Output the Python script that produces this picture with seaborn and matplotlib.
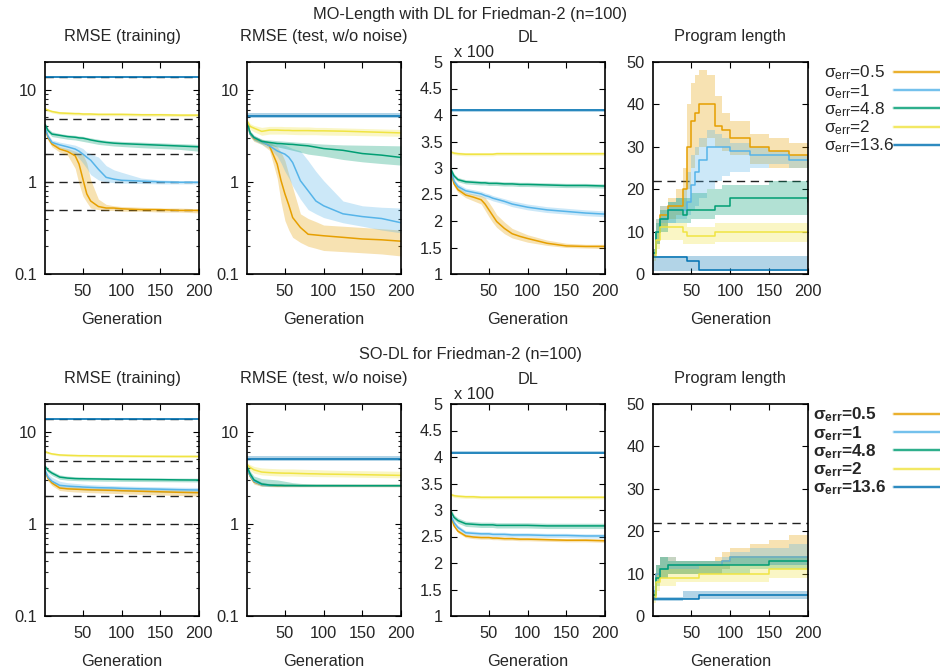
import numpy as np
import matplotlib
matplotlib.use("Agg")
import matplotlib.pyplot as plt
import seaborn as sns
from matplotlib.lines import Line2D
from matplotlib.ticker import LogLocator, NullFormatter, FixedLocator, FormatStrFormatter

# data: median + band (lo/hi) per noise level
gens = [1, 5, 10, 20, 30, 40, 45, 50, 55, 60, 70, 80, 90, 100, 125, 150, 175, 200]
labels = ["0.5", "1", "4.8", "2", "13.6"]
colors = ["#E69F00", "#56B4E9", "#009E73", "#F0E442", "#0072B2"]
noise_levels = [13.6, 4.8, 2, 1, 0.5]
true_length = 22

# ---- MO-Length with DL ----
mo_train_mid = [
    [3.8, 3.0, 2.57, 2.27, 2.14, 1.92, 1.56, 1.07, 0.74, 0.62, 0.54, 0.52, 0.52, 0.51, 0.5, 0.5, 0.49, 0.49],
    [3.9, 3.1, 2.68, 2.52, 2.4, 2.27, 2.15, 2.0, 1.85, 1.72, 1.37, 1.12, 1.07, 1.04, 1.02, 1.0, 0.99, 0.99],
    [4.2, 3.6, 3.3, 3.2, 3.1, 3.05, 3.0, 2.98, 2.92, 2.85, 2.75, 2.68, 2.63, 2.6, 2.55, 2.5, 2.45, 2.4],
    [6.2, 6.0, 5.8, 5.6, 5.55, 5.5, 5.5, 5.45, 5.45, 5.45, 5.4, 5.4, 5.4, 5.4, 5.35, 5.35, 5.3, 5.3],
    [13.7, 13.7, 13.7, 13.7, 13.7, 13.7, 13.7, 13.7, 13.7, 13.7, 13.7, 13.7, 13.7, 13.7, 13.7, 13.7, 13.7, 13.7],
]
mo_train_lo = [
    [3.6, 2.8, 2.4, 2.1, 1.95, 1.4, 0.95, 0.7, 0.6, 0.52, 0.5, 0.49, 0.49, 0.48, 0.48, 0.47, 0.47, 0.46],
    [3.7, 2.9, 2.5, 2.35, 2.2, 2.0, 1.8, 1.6, 1.4, 1.2, 1.05, 1.0, 0.98, 0.97, 0.96, 0.95, 0.95, 0.95],
    [4.0, 3.4, 3.1, 3.0, 2.9, 2.85, 2.8, 2.75, 2.7, 2.65, 2.55, 2.5, 2.45, 2.42, 2.35, 2.3, 2.25, 2.15],
    [6.0, 5.8, 5.6, 5.4, 5.35, 5.3, 5.3, 5.25, 5.25, 5.25, 5.2, 5.2, 5.2, 5.2, 5.15, 5.15, 5.1, 5.1],
    [13.3, 13.3, 13.3, 13.3, 13.3, 13.3, 13.3, 13.3, 13.3, 13.3, 13.3, 13.3, 13.3, 13.3, 13.3, 13.3, 13.3, 13.3],
]
mo_train_hi = [
    [4.0, 3.2, 2.75, 2.4, 2.3, 2.15, 2.05, 2.0, 1.6, 1.05, 0.65, 0.57, 0.55, 0.54, 0.53, 0.52, 0.52, 0.51],
    [4.1, 3.3, 2.85, 2.7, 2.6, 2.5, 2.4, 2.3, 2.1, 2.0, 1.86, 1.5, 1.35, 1.27, 1.1, 1.05, 1.03, 1.03],
    [4.4, 3.8, 3.5, 3.35, 3.25, 3.2, 3.15, 3.12, 3.05, 3.0, 2.9, 2.82, 2.78, 2.75, 2.7, 2.65, 2.6, 2.55],
    [6.4, 6.2, 6.0, 5.8, 5.75, 5.7, 5.7, 5.65, 5.65, 5.65, 5.6, 5.6, 5.6, 5.6, 5.55, 5.55, 5.5, 5.5],
    [14.1, 14.1, 14.1, 14.1, 14.1, 14.1, 14.1, 14.1, 14.1, 14.1, 14.1, 14.1, 14.1, 14.1, 14.1, 14.1, 14.1, 14.1],
]

mo_test_mid = [
    [4.5, 3.3, 2.95, 2.75, 2.46, 1.56, 1.03, 0.74, 0.56, 0.41, 0.32, 0.27, 0.265, 0.26, 0.25, 0.24, 0.235, 0.227],
    [4.5, 3.3, 3.0, 2.75, 2.46, 2.17, 2.08, 2.0, 1.85, 1.62, 1.03, 0.8, 0.62, 0.55, 0.45, 0.42, 0.4, 0.36],
    [4.5, 3.4, 3.03, 2.75, 2.68, 2.61, 2.6, 2.58, 2.56, 2.55, 2.5, 2.46, 2.38, 2.3, 2.2, 2.03, 1.95, 1.84],
    [4.6, 4.0, 3.83, 3.53, 3.65, 3.65, 3.63, 3.62, 3.62, 3.6, 3.6, 3.6, 3.58, 3.58, 3.55, 3.5, 3.45, 3.4],
    [5.2, 5.2, 5.2, 5.2, 5.2, 5.2, 5.2, 5.2, 5.2, 5.2, 5.2, 5.2, 5.2, 5.2, 5.2, 5.2, 5.2, 5.2],
]
mo_test_lo = [
    [4.3, 3.1, 2.75, 2.55, 2.2, 1.1, 0.6, 0.38, 0.3, 0.25, 0.22, 0.2, 0.19, 0.18, 0.175, 0.17, 0.165, 0.157],
    [4.3, 3.1, 2.8, 2.55, 2.3, 1.9, 1.6, 1.3, 1.1, 0.9, 0.65, 0.5, 0.45, 0.41, 0.36, 0.33, 0.3, 0.28],
    [4.3, 3.2, 2.85, 2.6, 2.5, 2.4, 2.35, 2.3, 2.25, 2.2, 2.1, 2.0, 1.95, 1.9, 1.75, 1.65, 1.58, 1.52],
    [4.4, 3.7, 3.5, 3.2, 3.3, 3.3, 3.3, 3.3, 3.28, 3.27, 3.25, 3.25, 3.25, 3.22, 3.2, 3.18, 3.15, 3.12],
    [4.9, 4.9, 4.9, 4.9, 4.9, 4.9, 4.9, 4.9, 4.9, 4.9, 4.9, 4.9, 4.9, 4.9, 4.9, 4.9, 4.9, 4.9],
]
mo_test_hi = [
    [4.7, 3.5, 3.15, 2.9, 2.7, 2.4, 2.1, 1.7, 1.2, 0.87, 0.45, 0.4, 0.37, 0.34, 0.33, 0.32, 0.31, 0.3],
    [4.7, 3.5, 3.2, 2.9, 2.7, 2.6, 2.55, 2.5, 2.4, 2.3, 2.17, 1.7, 1.3, 1.03, 0.62, 0.55, 0.53, 0.52],
    [4.7, 3.6, 3.2, 2.9, 2.85, 2.8, 2.78, 2.76, 2.74, 2.72, 2.68, 2.65, 2.6, 2.57, 2.52, 2.5, 2.48, 2.46],
    [4.8, 4.3, 4.1, 3.9, 4.0, 4.0, 4.0, 3.98, 3.98, 3.97, 3.95, 3.95, 3.9, 3.9, 3.85, 3.8, 3.75, 3.7],
    [5.6, 5.6, 5.6, 5.6, 5.6, 5.6, 5.6, 5.6, 5.6, 5.6, 5.6, 5.6, 5.6, 5.6, 5.6, 5.6, 5.6, 5.6],
]

# DL in units of 100
mo_dl_mid = [
    [2.9, 2.7, 2.59, 2.49, 2.45, 2.4, 2.32, 2.21, 2.1, 1.99, 1.86, 1.76, 1.71, 1.67, 1.58, 1.53, 1.52, 1.52],
    [2.95, 2.75, 2.65, 2.57, 2.54, 2.51, 2.48, 2.46, 2.43, 2.41, 2.37, 2.32, 2.29, 2.26, 2.21, 2.18, 2.15, 2.13],
    [2.97, 2.85, 2.78, 2.74, 2.73, 2.72, 2.72, 2.71, 2.71, 2.71, 2.7, 2.7, 2.69, 2.69, 2.68, 2.67, 2.67, 2.66],
    [3.3, 3.28, 3.27, 3.26, 3.26, 3.26, 3.26, 3.26, 3.26, 3.27, 3.27, 3.27, 3.27, 3.27, 3.27, 3.27, 3.27, 3.27],
    [4.09, 4.09, 4.09, 4.09, 4.09, 4.09, 4.09, 4.09, 4.09, 4.09, 4.09, 4.09, 4.09, 4.09, 4.09, 4.09, 4.09, 4.09],
]
mo_dl_lo = [
    [2.85, 2.65, 2.54, 2.44, 2.38, 2.32, 2.2, 2.08, 1.97, 1.88, 1.76, 1.68, 1.64, 1.6, 1.54, 1.5, 1.49, 1.48],
    [2.9, 2.7, 2.6, 2.52, 2.49, 2.46, 2.43, 2.41, 2.38, 2.36, 2.32, 2.27, 2.24, 2.21, 2.16, 2.13, 2.1, 2.08],
    [2.93, 2.81, 2.74, 2.7, 2.69, 2.68, 2.68, 2.67, 2.67, 2.67, 2.66, 2.66, 2.65, 2.65, 2.64, 2.63, 2.63, 2.62],
    [3.27, 3.25, 3.24, 3.23, 3.23, 3.23, 3.23, 3.23, 3.23, 3.24, 3.24, 3.24, 3.24, 3.24, 3.24, 3.24, 3.24, 3.24],
    [4.06, 4.06, 4.06, 4.06, 4.06, 4.06, 4.06, 4.06, 4.06, 4.06, 4.06, 4.06, 4.06, 4.06, 4.06, 4.06, 4.06, 4.06],
]
mo_dl_hi = [
    [2.95, 2.75, 2.64, 2.54, 2.51, 2.48, 2.44, 2.35, 2.24, 2.12, 1.98, 1.86, 1.8, 1.74, 1.64, 1.58, 1.56, 1.56],
    [3.0, 2.8, 2.7, 2.62, 2.59, 2.56, 2.53, 2.51, 2.48, 2.46, 2.42, 2.38, 2.35, 2.32, 2.27, 2.24, 2.21, 2.19],
    [3.01, 2.89, 2.82, 2.78, 2.77, 2.76, 2.76, 2.75, 2.75, 2.75, 2.74, 2.74, 2.73, 2.73, 2.72, 2.71, 2.71, 2.7],
    [3.33, 3.31, 3.3, 3.29, 3.29, 3.29, 3.29, 3.29, 3.29, 3.3, 3.3, 3.3, 3.3, 3.3, 3.3, 3.3, 3.3, 3.3],
    [4.12, 4.12, 4.12, 4.12, 4.12, 4.12, 4.12, 4.12, 4.12, 4.12, 4.12, 4.12, 4.12, 4.12, 4.12, 4.12, 4.12, 4.12],
]

mo_len_mid = [
    [5, 10, 14, 16, 16, 20, 30, 36, 38, 40, 40, 35, 34, 32, 30, 29, 28, 27],
    [5, 10, 13, 15, 15, 15, 17, 21, 24, 27, 30, 30, 30, 29, 28, 28, 27, 27],
    [5, 10, 13, 15, 15, 14, 15, 15, 15, 15, 15, 16, 16, 18, 18, 18, 18, 17],
    [4, 8, 11, 11, 11, 10, 9, 9, 9, 9, 9, 10, 10, 10, 10, 10, 10, 10],
    [4, 4, 4, 4, 4, 4, 3, 3, 3, 1, 1, 1, 1, 1, 1, 1, 1, 1],
]
mo_len_lo = [
    [4, 7, 11, 13, 14, 15, 20, 25, 28, 30, 32, 30, 29, 28, 26, 25, 25, 25],
    [4, 7, 10, 12, 13, 13, 14, 15, 16, 18, 20, 22, 23, 24, 25, 26, 25, 25],
    [4, 7, 10, 12, 12, 12, 12, 13, 13, 13, 13, 14, 14, 14, 14, 14, 14, 14],
    [3, 6, 8, 8, 8, 7, 7, 7, 7, 7, 7, 7.5, 7.5, 7.5, 7.5, 7.5, 7.5, 7.5],
    [0.7, 0.7, 0.7, 0.7, 0.7, 0.7, 0.7, 0.7, 0.7, 0.7, 0.7, 0.7, 0.7, 0.7, 0.7, 0.7, 0.7, 0.7],
]
mo_len_hi = [
    [6, 13, 16, 18, 20, 25, 40, 45, 47, 48, 47, 42, 38, 36, 33, 32, 31, 31],
    [6, 13, 16, 17, 18, 20, 24, 28, 30, 32, 34, 33, 32, 31, 30, 29, 28, 28],
    [6, 12, 15, 17, 18, 18, 18, 19, 19, 19, 20, 20, 21, 21, 21, 22, 22, 22],
    [5, 10, 12, 12, 12, 12, 11, 11, 11, 11, 11, 12, 12, 12, 12, 12, 12, 12],
    [4.2, 4.2, 4.2, 4.2, 4.2, 4.2, 4.2, 4.2, 4.2, 4.2, 4.2, 4.2, 4.2, 4.2, 4.2, 4.2, 4.2, 4.2],
]

# ---- SO-DL ----
so_train_mid = [
    [3.7, 3.1, 2.78, 2.45, 2.4, 2.38, 2.37, 2.36, 2.35, 2.34, 2.33, 2.32, 2.31, 2.29, 2.26, 2.23, 2.2, 2.18],
    [3.8, 3.2, 2.9, 2.62, 2.57, 2.54, 2.53, 2.51, 2.5, 2.49, 2.47, 2.46, 2.45, 2.43, 2.4, 2.38, 2.35, 2.33],
    [4.2, 3.8, 3.56, 3.22, 3.14, 3.1, 3.09, 3.09, 3.08, 3.08, 3.07, 3.06, 3.05, 3.04, 3.03, 3.02, 3.0, 2.99],
    [6.1, 5.9, 5.75, 5.6, 5.55, 5.52, 5.5, 5.5, 5.5, 5.48, 5.47, 5.46, 5.45, 5.44, 5.42, 5.41, 5.4, 5.4],
    [13.7, 13.7, 13.7, 13.7, 13.7, 13.7, 13.7, 13.7, 13.7, 13.7, 13.7, 13.7, 13.7, 13.7, 13.7, 13.7, 13.7, 13.7],
]
so_train_lo = [
    [3.5, 2.9, 2.6, 2.3, 2.25, 2.22, 2.21, 2.2, 2.19, 2.18, 2.17, 2.15, 2.14, 2.12, 2.09, 2.06, 2.03, 2.0],
    [3.6, 3.0, 2.7, 2.45, 2.4, 2.37, 2.36, 2.34, 2.33, 2.32, 2.3, 2.29, 2.28, 2.26, 2.23, 2.2, 2.18, 2.16],
    [4.0, 3.6, 3.35, 3.05, 2.98, 2.95, 2.94, 2.93, 2.93, 2.92, 2.91, 2.9, 2.9, 2.89, 2.88, 2.87, 2.86, 2.85],
    [5.95, 5.75, 5.6, 5.45, 5.4, 5.37, 5.35, 5.35, 5.35, 5.33, 5.32, 5.31, 5.3, 5.29, 5.27, 5.26, 5.25, 5.25],
    [13.4, 13.4, 13.4, 13.4, 13.4, 13.4, 13.4, 13.4, 13.4, 13.4, 13.4, 13.4, 13.4, 13.4, 13.4, 13.4, 13.4, 13.4],
]
so_train_hi = [
    [3.9, 3.3, 2.95, 2.6, 2.55, 2.53, 2.52, 2.5, 2.49, 2.48, 2.47, 2.46, 2.45, 2.43, 2.4, 2.37, 2.35, 2.33],
    [4.0, 3.5, 3.2, 2.9, 2.8, 2.75, 2.73, 2.7, 2.68, 2.66, 2.64, 2.62, 2.6, 2.58, 2.55, 2.52, 2.5, 2.48],
    [4.4, 4.0, 3.75, 3.4, 3.3, 3.25, 3.24, 3.23, 3.22, 3.21, 3.2, 3.19, 3.18, 3.17, 3.16, 3.15, 3.14, 3.13],
    [6.25, 6.05, 5.9, 5.75, 5.7, 5.67, 5.65, 5.65, 5.65, 5.63, 5.62, 5.61, 5.6, 5.59, 5.57, 5.56, 5.55, 5.55],
    [14.0, 14.0, 14.0, 14.0, 14.0, 14.0, 14.0, 14.0, 14.0, 14.0, 14.0, 14.0, 14.0, 14.0, 14.0, 14.0, 14.0, 14.0],
]

so_test_mid = [
    [4.0, 3.3, 2.85, 2.65, 2.62, 2.6, 2.6, 2.6, 2.6, 2.6, 2.6, 2.6, 2.6, 2.6, 2.6, 2.6, 2.6, 2.6],
    [4.0, 3.35, 2.9, 2.66, 2.62, 2.61, 2.61, 2.6, 2.6, 2.6, 2.6, 2.6, 2.6, 2.6, 2.6, 2.6, 2.6, 2.6],
    [4.2, 3.5, 3.0, 2.71, 2.64, 2.62, 2.62, 2.61, 2.61, 2.61, 2.6, 2.6, 2.6, 2.6, 2.6, 2.6, 2.6, 2.6],
    [4.4, 4.1, 3.86, 3.65, 3.6, 3.57, 3.56, 3.55, 3.55, 3.54, 3.52, 3.5, 3.49, 3.47, 3.45, 3.42, 3.39, 3.36],
    [5.1, 5.1, 5.1, 5.1, 5.1, 5.1, 5.1, 5.1, 5.1, 5.1, 5.1, 5.1, 5.1, 5.1, 5.1, 5.1, 5.1, 5.1],
]
so_test_lo = [
    [3.8, 3.1, 2.7, 2.55, 2.54, 2.53, 2.53, 2.53, 2.53, 2.53, 2.53, 2.53, 2.53, 2.53, 2.53, 2.53, 2.53, 2.53],
    [3.8, 3.15, 2.75, 2.56, 2.54, 2.53, 2.53, 2.53, 2.53, 2.53, 2.53, 2.53, 2.53, 2.53, 2.53, 2.53, 2.53, 2.53],
    [4.0, 3.3, 2.85, 2.6, 2.56, 2.55, 2.55, 2.55, 2.55, 2.55, 2.55, 2.55, 2.55, 2.55, 2.55, 2.55, 2.55, 2.55],
    [4.2, 3.8, 3.55, 3.4, 3.35, 3.32, 3.3, 3.3, 3.3, 3.3, 3.28, 3.27, 3.26, 3.25, 3.23, 3.2, 3.18, 3.15],
    [4.85, 4.85, 4.85, 4.85, 4.85, 4.85, 4.85, 4.85, 4.85, 4.85, 4.85, 4.85, 4.85, 4.85, 4.85, 4.85, 4.85, 4.85],
]
so_test_hi = [
    [4.2, 3.5, 3.05, 2.8, 2.72, 2.68, 2.68, 2.67, 2.67, 2.67, 2.67, 2.67, 2.67, 2.67, 2.67, 2.67, 2.67, 2.67],
    [4.2, 3.55, 3.1, 2.85, 2.75, 2.7, 2.7, 2.68, 2.68, 2.68, 2.67, 2.67, 2.67, 2.67, 2.67, 2.67, 2.67, 2.67],
    [4.4, 3.75, 3.3, 3.1, 3.05, 3.0, 2.95, 2.9, 2.85, 2.8, 2.75, 2.72, 2.7, 2.7, 2.69, 2.68, 2.68, 2.68],
    [4.6, 4.4, 4.2, 4.05, 4.0, 3.97, 3.95, 3.95, 3.95, 3.95, 3.92, 3.9, 3.88, 3.85, 3.8, 3.78, 3.75, 3.72],
    [5.4, 5.4, 5.4, 5.4, 5.4, 5.4, 5.4, 5.4, 5.4, 5.4, 5.4, 5.4, 5.4, 5.4, 5.4, 5.4, 5.4, 5.4],
]

so_dl_mid = [
    [2.87, 2.7, 2.6, 2.51, 2.49, 2.48, 2.48, 2.48, 2.47, 2.47, 2.46, 2.46, 2.45, 2.45, 2.44, 2.43, 2.43, 2.42],
    [2.89, 2.76, 2.67, 2.57, 2.56, 2.55, 2.55, 2.55, 2.54, 2.54, 2.54, 2.53, 2.53, 2.53, 2.52, 2.52, 2.51, 2.51],
    [2.97, 2.86, 2.8, 2.74, 2.73, 2.72, 2.72, 2.72, 2.72, 2.71, 2.71, 2.71, 2.71, 2.71, 2.7, 2.7, 2.7, 2.7],
    [3.29, 3.27, 3.26, 3.25, 3.25, 3.24, 3.24, 3.24, 3.24, 3.24, 3.24, 3.24, 3.24, 3.24, 3.24, 3.24, 3.24, 3.24],
    [4.08, 4.08, 4.08, 4.08, 4.08, 4.08, 4.08, 4.08, 4.08, 4.08, 4.08, 4.08, 4.08, 4.08, 4.08, 4.08, 4.08, 4.08],
]
so_dl_lo = [
    [2.84, 2.67, 2.57, 2.48, 2.46, 2.45, 2.45, 2.45, 2.44, 2.44, 2.43, 2.43, 2.42, 2.42, 2.41, 2.4, 2.4, 2.39],
    [2.85, 2.72, 2.63, 2.53, 2.52, 2.51, 2.51, 2.51, 2.5, 2.5, 2.5, 2.49, 2.49, 2.49, 2.48, 2.48, 2.47, 2.47],
    [2.92, 2.81, 2.75, 2.69, 2.68, 2.67, 2.67, 2.67, 2.67, 2.66, 2.66, 2.66, 2.66, 2.66, 2.65, 2.65, 2.65, 2.65],
    [3.26, 3.24, 3.23, 3.22, 3.22, 3.21, 3.21, 3.21, 3.21, 3.21, 3.21, 3.21, 3.21, 3.21, 3.21, 3.21, 3.21, 3.21],
    [4.05, 4.05, 4.05, 4.05, 4.05, 4.05, 4.05, 4.05, 4.05, 4.05, 4.05, 4.05, 4.05, 4.05, 4.05, 4.05, 4.05, 4.05],
]
so_dl_hi = [
    [2.9, 2.73, 2.63, 2.54, 2.52, 2.51, 2.51, 2.51, 2.5, 2.5, 2.49, 2.49, 2.48, 2.48, 2.47, 2.46, 2.46, 2.45],
    [2.93, 2.8, 2.71, 2.61, 2.6, 2.59, 2.59, 2.59, 2.58, 2.58, 2.58, 2.57, 2.57, 2.57, 2.56, 2.56, 2.55, 2.55],
    [3.02, 2.91, 2.85, 2.79, 2.78, 2.77, 2.77, 2.77, 2.77, 2.76, 2.76, 2.76, 2.76, 2.76, 2.75, 2.75, 2.75, 2.75],
    [3.32, 3.3, 3.29, 3.28, 3.28, 3.27, 3.27, 3.27, 3.27, 3.27, 3.27, 3.27, 3.27, 3.27, 3.27, 3.27, 3.27, 3.27],
    [4.11, 4.11, 4.11, 4.11, 4.11, 4.11, 4.11, 4.11, 4.11, 4.11, 4.11, 4.11, 4.11, 4.11, 4.11, 4.11, 4.11, 4.11],
]

so_len_mid = [
    [5, 10, 11, 12, 12, 12, 12, 12, 12, 12, 12, 12, 13, 14, 14, 14, 14, 14],
    [6, 10, 11, 12, 12, 12, 12, 12, 12, 12, 12, 12, 13, 14, 14, 14, 14, 14],
    [5, 9, 11, 12, 12, 12, 12, 12, 12, 12, 12, 12, 12, 12, 12, 13, 13, 13],
    [4, 8, 9, 9, 9, 9, 9, 9, 9, 10, 10, 10, 10, 10, 10, 11, 11, 11],
    [4, 4, 4, 4, 4, 4, 4, 4, 4, 5, 5, 5, 5, 5, 5, 5, 5, 5],
]
so_len_lo = [
    [4, 8, 9, 10, 10, 10, 10, 10, 10, 10, 10, 10, 11, 12, 12, 12, 12, 12],
    [4, 8, 9, 10, 10, 10, 10, 10, 10, 10, 10, 10, 11, 12, 12, 12, 12, 12],
    [4, 7, 9, 10, 10, 10, 10, 10, 10, 10, 10, 10, 10, 10, 11, 11, 11, 12],
    [3, 6, 7, 7, 8, 8, 8, 8, 8, 8, 8, 8, 8, 8, 8, 9, 9, 9],
    [3.5, 3.5, 3.5, 3.5, 3.5, 4, 4, 4, 4, 4, 4, 4, 4, 4, 4, 4, 4, 4],
]
so_len_hi = [
    [6, 12, 14, 14, 13, 13, 13, 13, 13, 13, 13, 14, 15, 16, 17, 18, 19, 19],
    [7, 12, 14, 14, 13, 13, 13, 13, 13, 13, 13, 13, 14, 15, 16, 16, 17, 17],
    [6, 12, 14, 13, 13, 13, 13, 13, 13, 13, 13, 13, 13, 14, 14, 14, 14, 15],
    [5, 10, 11, 11, 11, 11, 11, 11, 11, 12, 12, 12, 12, 12, 12, 12, 12, 12],
    [4.5, 4.5, 4.5, 4.5, 4.5, 6, 6, 6, 6, 6, 6, 6, 6, 6, 6, 6, 6, 6],
]

# ---- style ----
sns.set_style("ticks")
plt.rcParams["font.family"] = ["Liberation Sans", "DejaVu Sans"]
plt.rcParams["mathtext.fontset"] = "custom"
plt.rcParams["mathtext.rm"] = "Liberation Sans"
plt.rcParams["mathtext.it"] = "Liberation Sans:italic"
plt.rcParams["mathtext.bf"] = "Liberation Sans:bold"

W, H = 940, 672
FS = 11.8
fig = plt.figure(figsize=(W / 100, H / 100), dpi=100)


def px_ax(left, top, w=154, h=212):
    return fig.add_axes([left / W, 1 - (top + h) / H, w / W, h / H])


def style_axis(ax):
    for s in ax.spines.values():
        s.set_linewidth(1.2)
        s.set_color("black")
    ax.tick_params(which="major", direction="in", top=True, right=True,
                   length=4.3, width=0.8, labelsize=FS, color="black")
    ax.tick_params(axis="x", pad=7)
    ax.tick_params(axis="y", pad=6)
    ax.set_xlim(1, 200)
    ax.xaxis.set_major_locator(FixedLocator([50, 100, 150, 200]))
    ax.set_xlabel("")
    ax.set_ylabel("")


def draw_series(ax, mid, lo, hi, step=False):
    for i in range(5):
        ax.fill_between(gens, lo[i], hi[i], color=colors[i], alpha=0.3, lw=0,
                        step="post" if step else None)
    for i in range(5):
        sns.lineplot(x=gens, y=mid[i], ax=ax, color=colors[i], lw=1.1,
                     drawstyle="steps-post" if step else "default")


def dashed(ax, y):
    ax.axhline(y, color="#222222", lw=1.0, ls=(0, (6, 4)), zorder=1)


def log_panel(ax, mid, lo, hi, refs):
    ax.set_yscale("log")
    for r in refs:
        dashed(ax, r)
    draw_series(ax, mid, lo, hi)
    style_axis(ax)
    ax.set_ylim(0.1, 20)
    ax.set_yticks([0.1, 1, 10])
    ax.set_yticklabels(["0.1", "1", "10"])
    ax.yaxis.set_minor_locator(LogLocator(base=10, subs=np.arange(2, 10)))
    ax.yaxis.set_minor_formatter(NullFormatter())
    ax.tick_params(which="minor", direction="in", right=True, length=2.2, width=0.8)


def dl_panel(ax, mid, lo, hi):
    draw_series(ax, mid, lo, hi)
    style_axis(ax)
    ax.set_ylim(1, 5)
    ax.set_yticks(np.arange(1, 5.01, 0.5))
    ax.yaxis.set_major_formatter(FormatStrFormatter("%g"))
    ax.text(0.02, 1.01, "x 100", transform=ax.transAxes, fontsize=FS,
            ha="left", va="bottom")


def len_panel(ax, mid, lo, hi):
    dashed(ax, true_length)
    draw_series(ax, mid, lo, hi, step=True)
    style_axis(ax)
    ax.set_ylim(0, 50)
    ax.set_yticks([0, 10, 20, 30, 40, 50])


lefts = [45, 247, 451, 653]
widths = [154, 154, 154, 155]
titles = ["RMSE (training)", "RMSE (test, w/o noise)", "DL", "Program length"]

rows = [
    dict(top=62, sup="MO-Length with DL for Friedman-2 (n=100)", sup_y=14, bold=False,
         data=[(mo_train_mid, mo_train_lo, mo_train_hi), (mo_test_mid, mo_test_lo, mo_test_hi),
               (mo_dl_mid, mo_dl_lo, mo_dl_hi), (mo_len_mid, mo_len_lo, mo_len_hi)],
         leg_x=824),
    dict(top=404, sup="SO-DL for Friedman-2 (n=100)", sup_y=355, bold=True,
         data=[(so_train_mid, so_train_lo, so_train_hi), (so_test_mid, so_test_lo, so_test_hi),
               (so_dl_mid, so_dl_lo, so_dl_hi), (so_len_mid, so_len_lo, so_len_hi)],
         leg_x=813),
]

for row in rows:
    top = row["top"]
    fig.text(470 / W, 1 - row["sup_y"] / H, row["sup"], ha="center", va="center", fontsize=FS)
    for k in range(4):
        ax = px_ax(lefts[k], top, w=widths[k])
        mid, lo, hi = row["data"][k]
        if k == 0:
            log_panel(ax, mid, lo, hi, noise_levels)
        elif k == 1:
            log_panel(ax, mid, lo, hi, [])
        elif k == 2:
            dl_panel(ax, mid, lo, hi)
        else:
            len_panel(ax, mid, lo, hi)
        cx = (lefts[k] + widths[k] / 2) / W
        fig.text(cx, 1 - (top - 25) / H, titles[k], ha="center", va="center", fontsize=FS)
        fig.text(cx, 1 - (top + 258) / H, "Generation", ha="center", va="center", fontsize=FS)

    # legend (gnuplot style key on the right)
    for i in range(5):
        y = top + 10 + i * 18.2
        if row["bold"]:
            lab = r"$\mathbf{σ}_{\mathbf{err}}$=" + labels[i]
            fig.text(row["leg_x"] / W, 1 - (y + 1) / H, lab, fontsize=FS + 0.5,
                     fontweight="bold", ha="left", va="center")
        else:
            lab = r"$\mathrm{σ}_{\mathrm{err}}$=" + labels[i]
            fig.text(row["leg_x"] / W, 1 - (y + 1) / H, lab, fontsize=FS + 0.5,
                     ha="left", va="center")
        yy = 1 - y / H
        fig.add_artist(Line2D([894 / W, 1.0], [yy, yy], color=colors[i], lw=2.6, alpha=0.22))
        fig.add_artist(Line2D([894 / W, 1.0], [yy, yy], color=colors[i], lw=1.1))

fig.savefig("out.png", dpi=100)
